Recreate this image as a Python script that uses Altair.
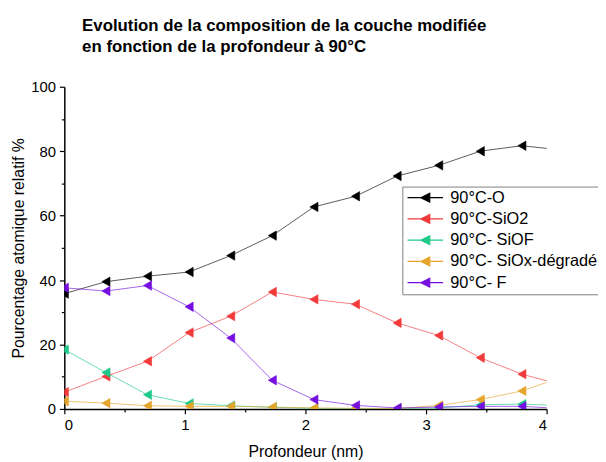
import altair as alt
import pandas as pd

depth = [0.0, 0.345, 0.69, 1.035, 1.38, 1.725, 2.07, 2.415, 2.76, 3.105, 3.45, 3.795, 4.14]
series_names = ["90°C-O", "90°C-SiO2", "90°C- SiOF", "90°C- SiOx-dégradé", "90°C- F"]
val_O = [35.8, 39.5, 41.2, 42.5, 47.6, 53.8, 62.7, 66.0, 72.3, 75.6, 80.0, 81.7, 80.3]
val_SiO2 = [5.2, 10.1, 14.8, 23.7, 28.8, 36.3, 34.0, 32.5, 26.7, 22.8, 15.9, 10.8, 7.3]
val_SiOF = [18.4, 11.3, 4.4, 1.7, 1.0, 0.5, 0.2, 0.1, 0.1, 0.3, 1.3, 1.5, 1.0]
val_SiOx = [2.4, 1.8, 1.0, 0.8, 0.8, 0.6, 0.3, 0.2, 0.1, 1.1, 2.9, 5.6, 10.0]
val_F = [37.6, 36.6, 38.3, 31.7, 22.0, 8.9, 2.9, 1.1, 0.3, 0.6, 0.8, 0.8, 0.1]
colors = ["#000000", "#F23A3A", "#1FC98A", "#E6A52C", "#7510E0"]

rows = []
for name, vals in zip(series_names, [val_O, val_SiO2, val_SiOF, val_SiOx, val_F]):
    for d, v in zip(depth, vals):
        rows.append({"depth": d, "value": v, "series": name})
df = pd.DataFrame(rows)

font = "Liberation Sans"
x_ticks = [0, 0.5, 1, 1.5, 2, 2.5, 3, 3.5, 4]
y_ticks = [0, 10, 20, 30, 40, 50, 60, 70, 80, 90, 100]

x_enc = alt.X("depth:Q", scale=alt.Scale(domain=[0, 4], nice=False),
              axis=alt.Axis(title="Profondeur (nm)", values=x_ticks,
                            labelExpr="datum.value % 1 == 0 ? format(datum.value, 'd') : ''",
                            tickSize={"condition": {"test": "datum.value % 1 == 0", "value": 5}, "value": 3},
                            grid=False, domainColor="black", tickColor="black", domainWidth=1.5,
                            tickWidth=1.2, labelFontSize=15, titleFontSize=16, labelColor="black",
                            titleColor="black", titleFontWeight="normal", labelFont=font, titleFont=font,
                            labelPadding=4, titlePadding=11))
y_enc = alt.Y("value:Q", scale=alt.Scale(domain=[0, 100], nice=False),
              axis=alt.Axis(title="Pourcentage atomique relatif %", values=y_ticks,
                            labelExpr="datum.value % 20 == 0 ? format(datum.value, 'd') : ''",
                            tickSize={"condition": {"test": "datum.value % 20 == 0", "value": 5}, "value": 3},
                            grid=False, domainColor="black", tickColor="black", domainWidth=1.5,
                            tickWidth=1.2, labelFontSize=15, titleFontSize=16, labelColor="black",
                            titleColor="black", titleFontWeight="normal", labelFont=font, titleFont=font,
                            labelPadding=4, titlePadding=4))

# line scale uses reversed domain order so its (hidden) legend is not merged with the visible one
line_scale = alt.Scale(domain=series_names[::-1], range=colors[::-1])
scale = alt.Scale(domain=series_names, range=colors)
legend = alt.Legend(title=None, orient="none", legendX=342, legendY=101,
                    symbolType="M-1,0L5,0M2.75,-0.75L1.25,0L2.75,0.75Z",
                    symbolSize=144, symbolStrokeWidth=1.2, labelOffset=29,
                    labelFontSize=16.5, labelFont=font, labelColor="black",
                    strokeColor="#808080", padding=3, rowPadding=4.5,
                    fillColor="white")

lines = alt.Chart(df).mark_line(strokeWidth=1, opacity=0.65, clip=True).encode(
    x=x_enc, y=y_enc,
    color=alt.Color("series:N", scale=line_scale, legend=None),
)
points = alt.Chart(df).mark_point(shape="triangle-left", filled=True, size=90,
                                  strokeWidth=0.6, opacity=1, clip=True).encode(
    x=x_enc, y=y_enc,
    fill=alt.Fill("series:N", scale=scale, legend=legend),
    stroke=alt.Stroke("series:N", scale=scale, legend=legend),
)

chart = alt.layer(lines, points).properties(
    width=488, height=326,
    title=alt.TitleParams(
        text=["Evolution de la composition de la couche modifiée",
              "en fonction de la profondeur à 90°C"],
        anchor="start", dx=18, offset=24, fontSize=17, fontWeight="bold",
        font=font, color="black", lineHeight=21, frame="group"),
    autosize=alt.AutoSizeParams(type="none"),
    padding={"left": 57, "top": 77, "right": 52, "bottom": 51},
).configure_view(stroke=None)

chart.save("out.html", embed_options={"renderer": "svg", "actions": False})
